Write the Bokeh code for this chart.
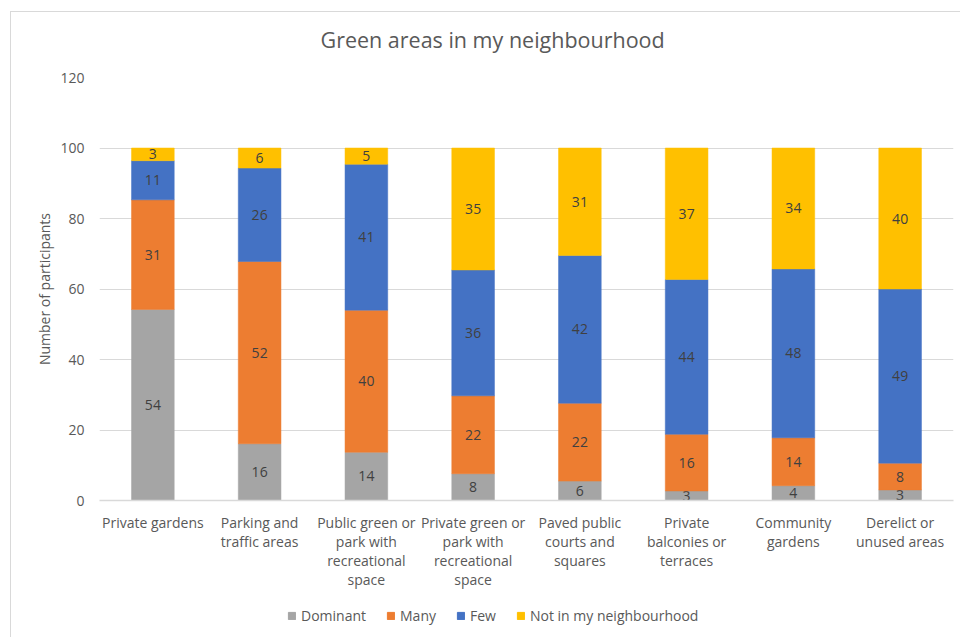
from bokeh.plotting import figure
from bokeh.models import ColumnDataSource, FixedTicker, Legend, LegendItem, Range1d, Title
from bokeh.layouts import column
from bokeh.core.properties import value
from bokeh.embed import file_html
from bokeh.resources import INLINE

categories = [
    "Private gardens",
    "Parking and\ntraffic areas",
    "Public green or\npark with\nrecreational\nspace",
    "Private green or\npark with\nrecreational\nspace",
    "Paved public\ncourts and\nsquares",
    "Private\nbalconies or\nterraces",
    "Community\ngardens",
    "Derelict or\nunused areas",
]
series_names = ["Dominant", "Many", "Few", "Not in my neighbourhood"]

dominant = [54.2, 16.1, 13.7, 7.6, 5.5, 2.7, 4.2, 3.0]
many = [31.1, 51.7, 40.3, 22.1, 22.1, 16.1, 13.6, 7.6]
few = [11.1, 26.5, 41.4, 35.7, 41.9, 43.9, 47.9, 49.4]
not_in = [3.6, 5.7, 4.6, 34.6, 30.5, 37.3, 34.3, 40.0]

dominant_labels = [54, 16, 14, 8, 6, 3, 4, 3]
many_labels = [31, 52, 40, 22, 22, 16, 14, 8]
few_labels = [11, 26, 41, 36, 42, 44, 48, 49]
not_in_labels = [3, 6, 5, 35, 31, 37, 34, 40]

y_ticks = [0, 20, 40, 60, 80, 100, 120]

colors = ["#A5A5A5", "#ED7D31", "#4472C4", "#FFC000"]
FONT = "Open Sans"
TXT = "#595959"

series = [dominant, many, few, not_in]
labels = [dominant_labels, many_labels, few_labels, not_in_labels]
xs = list(range(len(categories)))

p = figure(width=960, height=602, output_backend="svg", toolbar_location=None,
           x_range=Range1d(-0.5, len(categories) - 0.5), y_range=Range1d(0, 120),
           min_border_left=99, min_border_right=7, min_border_top=77, min_border_bottom=102)
p.add_layout(Title(text=" ", text_font_size="7px"), "above")
p.add_layout(Title(text="Green areas in my neighbourhood", text_font=FONT,
                   text_font_size="21.5px", text_font_style="normal", text_color=TXT,
                   align="left", offset=221), "above")
p.outline_line_color = None
p.background_fill_color = "white"
p.border_fill_color = None
p.styles = {
    "background-color": "white",
    "background-image": "linear-gradient(#D9D9D9, #D9D9D9), linear-gradient(#D9D9D9, #D9D9D9)",
    "background-size": "1px 640px, 960px 1px",
    "background-position": "10px 11px, 10px 11px",
    "background-repeat": "no-repeat",
}

p.ygrid.ticker = FixedTicker(ticks=y_ticks)
p.ygrid.grid_line_color = "#D9D9D9"
p.ygrid.grid_line_width = 1
p.xgrid.grid_line_color = None

p.yaxis.ticker = FixedTicker(ticks=y_ticks)
p.yaxis.axis_line_color = None
p.yaxis.major_tick_line_color = None
p.yaxis.minor_tick_line_color = None
p.yaxis.major_label_standoff = 9
p.yaxis.major_label_text_font = FONT
p.yaxis.major_label_text_font_size = "14px"
p.yaxis.major_label_text_color = TXT
p.yaxis.axis_label = "Number of participants"
p.yaxis.axis_label_text_font = FONT
p.yaxis.axis_label_text_font_size = "14px"
p.yaxis.axis_label_text_font_style = "normal"
p.yaxis.axis_label_text_color = TXT
p.yaxis.axis_label_standoff = 3

p.xaxis.ticker = FixedTicker(ticks=xs)
p.xaxis.major_label_overrides = {i: c for i, c in enumerate(categories)}
p.xaxis.axis_line_color = "#D9D9D9"
p.xaxis.axis_line_width = 1.5
p.xaxis.major_tick_line_color = None
p.xaxis.minor_tick_line_color = None
p.xaxis.major_label_standoff = 6
p.xaxis.major_label_text_font = FONT
p.xaxis.major_label_text_font_size = "14px"
p.xaxis.major_label_text_color = TXT
p.xaxis.major_label_text_line_height = 1.0

bottoms = [0.0] * len(categories)
for name, vals, labs, col in zip(series_names, series, labels, colors):
    tops = [b + v for b, v in zip(bottoms, vals)]
    mids = [(b + t) / 2 for b, t in zip(bottoms, tops)]
    src = ColumnDataSource(dict(x=xs, bottom=bottoms, top=tops, mid=mids,
                                lab=[str(v) for v in labs]))
    p.vbar(x="x", bottom="bottom", top="top", width=0.4, source=src,
           fill_color=col, line_color=col, line_width=0.5)
    p.text(x="x", y="mid", text="lab", source=src, text_align="center",
           text_baseline="middle", text_font=value(FONT), text_font_size="14px",
           text_color="#404040")
    bottoms = tops

# legend strip below the chart (its frame is aligned with the main frame)
lg = figure(width=960, height=35, output_backend="svg", toolbar_location=None,
            x_range=Range1d(0, 1), y_range=Range1d(0, 1),
            x_axis_location=None, y_axis_location=None, min_border=0)
lg.outline_line_color = None
lg.xgrid.visible = False
lg.ygrid.visible = False
lg.background_fill_color = None
lg.border_fill_color = None
lg.styles = {
    "background-color": "white",
    "background-image": "linear-gradient(#D9D9D9, #D9D9D9)",
    "background-size": "1px 40px",
    "background-position": "10px 0px",
    "background-repeat": "no-repeat",
}
items = []
for name, col in zip(series_names, colors):
    # legend-only swatch renderer, zero-size and outside the visible range
    r = lg.vbar(x=[-5], bottom=[0], top=[0], width=0, fill_color=col, line_color=col)
    items.append(LegendItem(label=name, renderers=[r]))
legend = Legend(items=items, orientation="horizontal", location=(188, 12),
                glyph_width=9, glyph_height=9, label_standoff=5, spacing=20,
                label_text_font=FONT, label_text_font_size="14px", label_text_color=TXT,
                border_line_color=None, background_fill_alpha=0, margin=0, padding=4)
lg.add_layout(legend, "center")

layout = column(p, lg, spacing=0)
open("out.html", "w").write(file_html(layout, INLINE))
